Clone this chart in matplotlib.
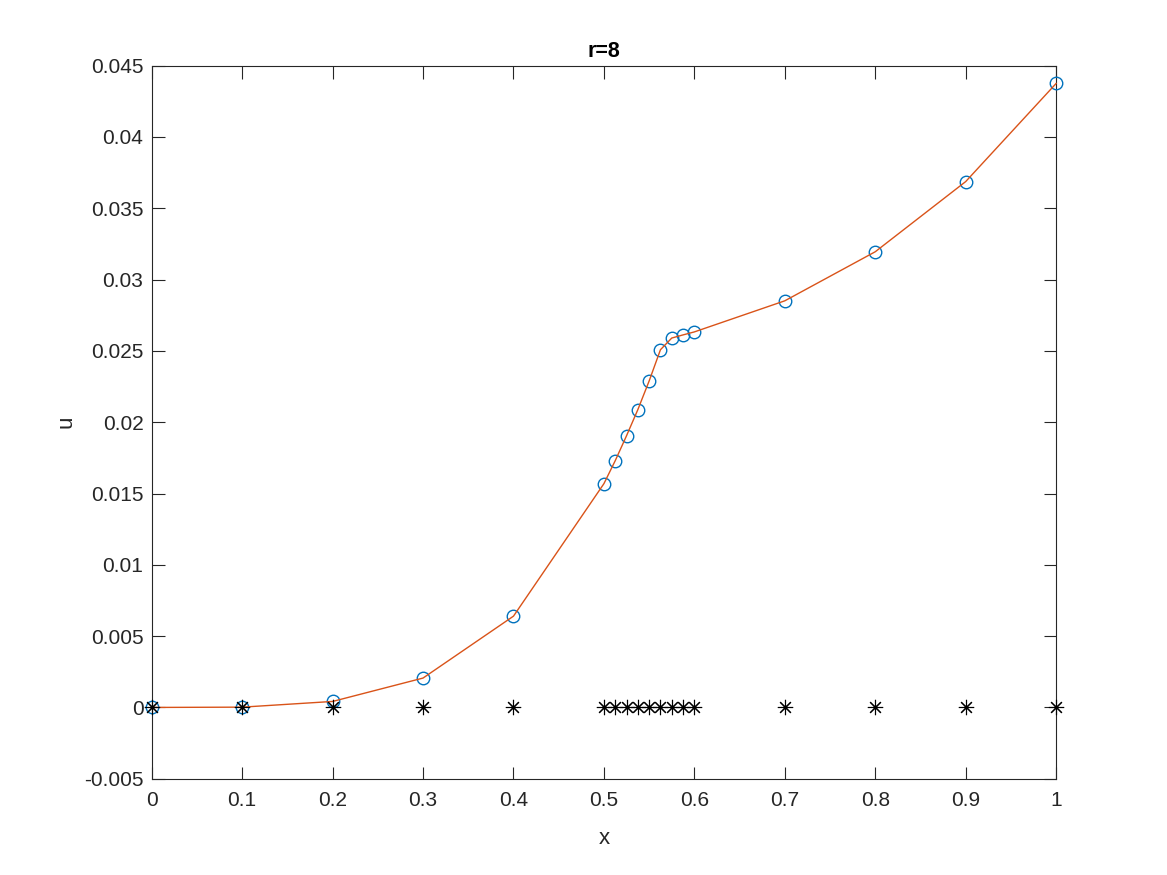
import numpy as np
import matplotlib
matplotlib.use("Agg")
import matplotlib.pyplot as plt

plt.rcParams['font.family'] = ['Liberation Sans', 'DejaVu Sans']

# grid nodes and solution values
x = [0, 0.1, 0.2, 0.3, 0.4, 0.5, 0.5125, 0.525, 0.5375, 0.55, 0.5625,
     0.575, 0.5875, 0.6, 0.7, 0.8, 0.9, 1.0]
u = [0.0, 0.00002, 0.00042, 0.00206, 0.0064, 0.01569, 0.0173, 0.01905,
     0.02088, 0.02289, 0.02508, 0.0259, 0.02612, 0.02633, 0.02851,
     0.03195, 0.03687, 0.04375]
xticks = [0, 0.1, 0.2, 0.3, 0.4, 0.5, 0.6, 0.7, 0.8, 0.9, 1]
xticklabels = ['0', '0.1', '0.2', '0.3', '0.4', '0.5', '0.6', '0.7', '0.8', '0.9', '1']
yticks = [-0.005, 0, 0.005, 0.01, 0.015, 0.02, 0.025, 0.03, 0.035, 0.04, 0.045]
yticklabels = ['-0.005', '0', '0.005', '0.01', '0.015', '0.02', '0.025',
               '0.03', '0.035', '0.04', '0.045']

axcol = '#262626'

fig = plt.figure(figsize=(11.67, 8.75), dpi=100)
ax = fig.add_axes([0.13, 0.11, 0.775, 0.815])

ax.plot(x, u, 'o', color='#0072BD', mfc='none', ms=9, mew=1.0, clip_on=False, zorder=3)
ax.plot(x, u, '-', color='#D95319', lw=1.0, clip_on=False, zorder=4)
ax.plot(x, np.zeros(len(x)), linestyle='none', marker=(8, 2, 0), color='black',
        ms=11, mew=0.8, clip_on=False, zorder=5)

ax.set_xlim(0, 1)
ax.set_ylim(-0.005, 0.045)
ax.set_xticks(xticks)
ax.set_xticklabels(xticklabels)
ax.set_yticks(yticks)
ax.set_yticklabels(yticklabels)

ax.tick_params(direction='in', length=9, width=0.8, top=True, right=True,
               labelsize=15, colors=axcol)
ax.tick_params(axis='x', pad=9)
ax.tick_params(axis='y', pad=6)
for s in ax.spines.values():
    s.set_color(axcol)
    s.set_linewidth(0.8)

ax.set_title('r=8', fontsize=15.5, fontweight='bold', color='black', pad=6)
ax.set_xlabel('x', fontsize=16, color=axcol, labelpad=13)
ax.set_ylabel('u', fontsize=16, color=axcol, labelpad=5)

fig.savefig('out.png', dpi=100)
